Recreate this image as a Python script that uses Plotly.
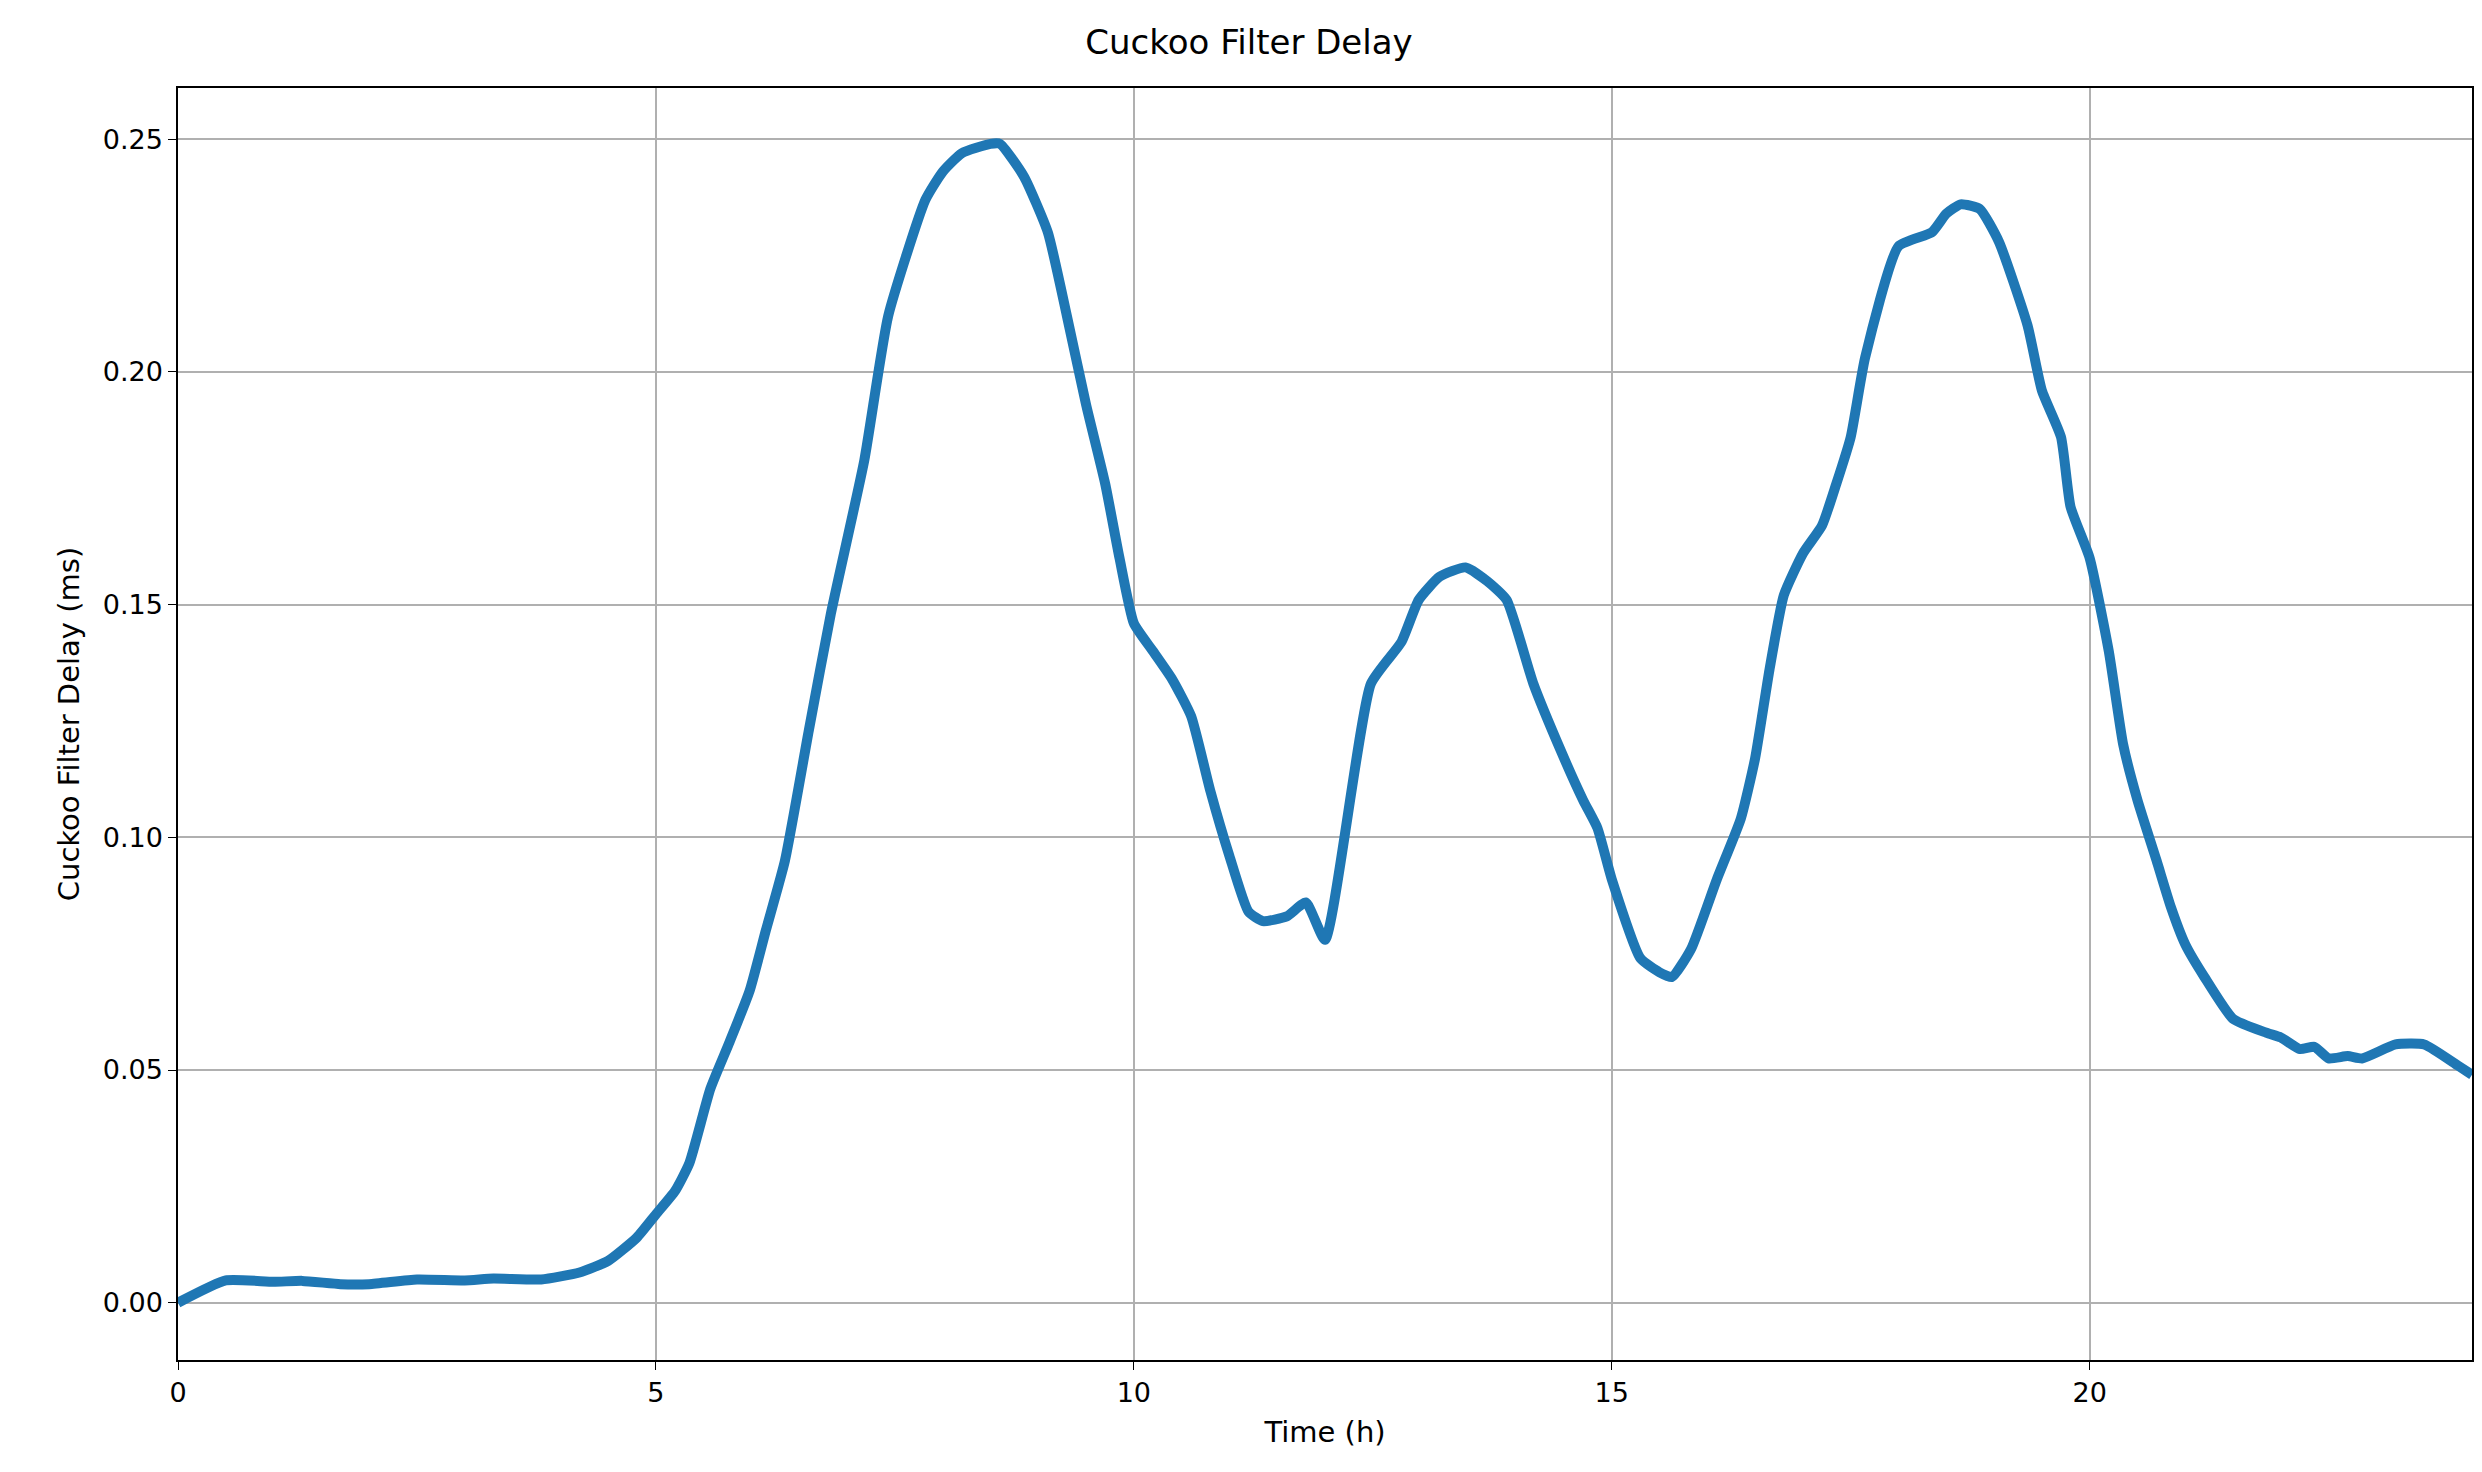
import plotly.graph_objects as go

hours = [0,0.5,1,1.3,1.7,2,2.5,3,3.3,3.8,4.2,4.5,4.8,5.0,5.2,5.35,5.57,5.77,5.98,6.15,6.35,6.6,6.83,7.18,7.43,7.82,8.0,8.2,8.5,8.6,8.85,9.1,9.3,9.5,9.7,9.85,10.0,10.2,10.4,10.6,10.8,11.0,11.2,11.35,11.6,11.8,12.0,12.48,12.8,12.98,13.2,13.47,13.7,13.9,14.18,14.48,14.7,14.85,15.0,15.3,15.5,15.63,15.83,16.1,16.35,16.5,16.65,16.8,17.0,17.2,17.35,17.5,17.65,18.0,18.35,18.5,18.65,18.85,19.05,19.35,19.5,19.7,19.8,20.0,20.2,20.35,20.5,20.7,20.85,21.0,21.2,21.5,21.85,22.0,22.2,22.35,22.5,22.7,22.85,23.2,23.5,23.85,24.0]
delay = [0,0.0048,0.0045,0.0047,0.004,0.004,0.005,0.0048,0.0052,0.005,0.0065,0.009,0.014,0.019,0.024,0.030,0.046,0.056,0.067,0.080,0.095,0.123,0.148,0.181,0.212,0.237,0.243,0.247,0.249,0.249,0.242,0.230,0.212,0.193,0.176,0.160,0.146,0.140,0.134,0.126,0.110,0.096,0.084,0.082,0.083,0.086,0.078,0.133,0.142,0.151,0.156,0.158,0.155,0.151,0.133,0.118,0.108,0.102,0.091,0.074,0.071,0.070,0.076,0.091,0.104,0.117,0.136,0.152,0.161,0.167,0.176,0.186,0.203,0.227,0.230,0.234,0.236,0.235,0.228,0.210,0.196,0.186,0.171,0.160,0.140,0.120,0.108,0.095,0.085,0.077,0.070,0.061,0.058,0.057,0.0545,0.055,0.0525,0.053,0.0525,0.0555,0.0555,0.051,0.049]

fig = go.Figure(go.Scatter(x=hours, y=delay, mode="lines",
                           line=dict(color="#1f77b4", width=10, shape="spline", smoothing=0.5)))
ax = dict(showline=True, linecolor="black", linewidth=1.5, mirror=True,
          showgrid=True, gridcolor="#b0b0b0", gridwidth=1.5, zeroline=False,
          ticks="outside", ticklen=8, tickcolor="black",
          tickfont=dict(size=27, color="black"))
fig.update_layout(
    width=2482, height=1472, plot_bgcolor="white", paper_bgcolor="white",
    font=dict(family="DejaVu Sans", color="black"),
    margin=dict(l=170, r=18, t=80, b=120),
    title=dict(text="Cuckoo Filter Delay", x=0.5, xanchor="center", y=0.985,
               yanchor="top", font=dict(size=34)),
    showlegend=False,
)
fig.update_xaxes(ax, range=[0, 24], dtick=5,
                 title=dict(text="Time (h)", font=dict(size=29)))
fig.update_yaxes(ax, range=[-0.0123, 0.261], dtick=0.05, tickformat=".2f",
                 title=dict(text="Cuckoo Filter Delay (ms)", font=dict(size=29)))
fig.write_html("out.html")
